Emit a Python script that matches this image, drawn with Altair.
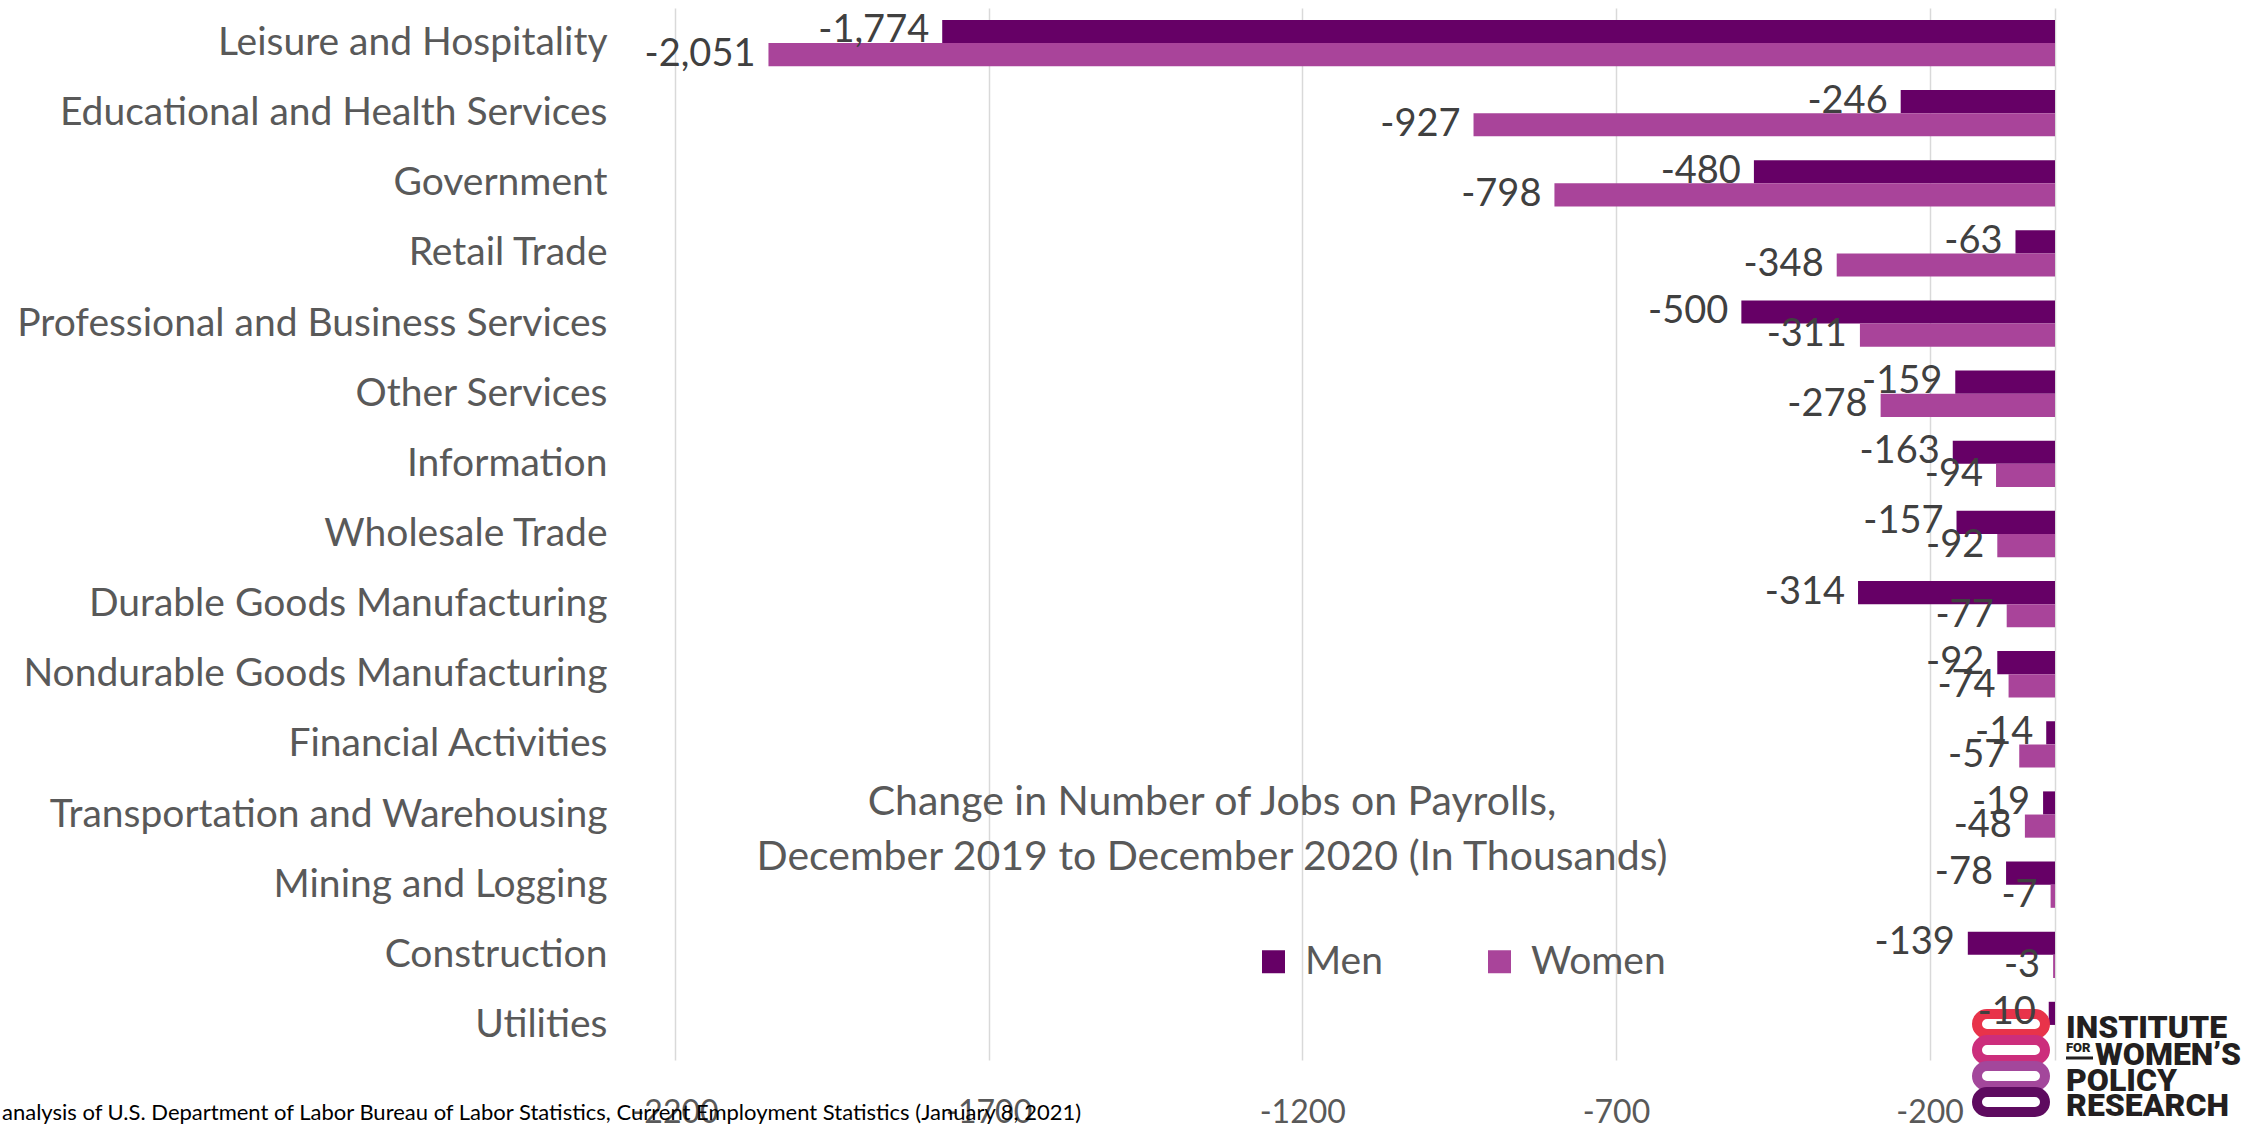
import altair as alt
import pandas as pd

categories = [
    "Leisure and Hospitality",
    "Educational and Health Services",
    "Government",
    "Retail Trade",
    "Professional and Business Services",
    "Other Services",
    "Information",
    "Wholesale Trade",
    "Durable Goods Manufacturing",
    "Nondurable Goods Manufacturing",
    "Financial Activities",
    "Transportation and Warehousing",
    "Mining and Logging",
    "Construction",
    "Utilities",
]
men = [-1774, -246, -480, -63, -500, -159, -163, -157, -314, -92, -14, -19, -78, -139, -10]
women = [-2051, -927, -798, -348, -311, -278, -94, -92, -77, -74, -57, -48, -7, -3, None]
series = ["Men", "Women"]
colors = ["#660066", "#A9449A"]
x_ticks = [-2200, -1700, -1200, -700, -200, 0]

title_lines = [
    "Change in Number of Jobs on Payrolls,",
    "December 2019 to December 2020 (In Thousands)",
]
footer = ("analysis of U.S. Department of Labor Bureau of Labor Statistics, "
          "Current Employment Statistics (January 8, 2021)")
logo_lines = ["INSTITUTE", "WOMEN\u2019S", "POLICY", "RESEARCH"]
ring_colors = ["#E8334A", "#CC2E7C", "#A3479B", "#5E0B5F"]

rows = []
for c, m, w in zip(categories, men, women):
    rows.append({"category": c, "sex": "Men", "value": m})
    if w is not None:
        rows.append({"category": c, "sex": "Women", "value": w})
df = pd.DataFrame(rows)
df["label"] = df["value"].map(lambda v: f"{v:,}")

FONT = "Lato"
W, H = 1380, 1052

base = alt.Chart(df).encode(
    y=alt.Y(
        "category:N",
        sort=categories,
        scale=alt.Scale(paddingInner=0.34, paddingOuter=0.17),
        axis=alt.Axis(
            title=None, domain=False, ticks=False, tickSize=0, grid=False,
            labelFont=FONT, labelFontSize=39, labelColor="#595959",
            labelPadding=68, labelLimit=1000,
        ),
    ),
    yOffset=alt.YOffset("sex:N", sort=series),
    x=alt.X(
        "value:Q",
        scale=alt.Scale(domain=[-2200, 0], nice=False),
        axis=alt.Axis(
            title=None, values=x_ticks,
            labelExpr="datum.value == 0 ? '' : toString(datum.value)",
            grid=True, gridColor="#d9d9d9", gridWidth=1.5,
            domain=False, ticks=False, tickSize=0,
            labelFont=FONT, labelFontSize=32, labelColor="#595959",
            labelPadding=37, labelFlush=False, labelOverlap=False,
        ),
    ),
)

bars = base.mark_bar().encode(
    color=alt.Color(
        "sex:N",
        scale=alt.Scale(domain=series, range=colors),
        legend=alt.Legend(
            title=None, orient="none", legendX=579, legendY=934,
            direction="horizontal", symbolType="square", symbolSize=529,
            symbolStrokeWidth=0, symbolOpacity=1,
            labelFont=FONT, labelFontSize=39, labelColor="#595959",
            labelOffset=12, columnPadding=97, padding=0,
        ),
    )
)

labels = base.mark_text(
    align="right", baseline="middle", dx=-13,
    font=FONT, fontSize=38, color="#404040",
).encode(text="label:N")

one = pd.DataFrame({"a": [0]})

layers = [bars]

# logo rings
ring_centers = [1016, 1042, 1068, 1094]
for col, cy in zip(ring_colors, ring_centers):
    layers.append(
        alt.Chart(one).mark_rect(
            cornerRadius=10, fillOpacity=0, stroke=col, strokeWidth=10
        ).encode(
            x=alt.value(1302), x2=alt.value(1370),
            y=alt.value(cy - 10), y2=alt.value(cy + 10),
        )
    )

layers.append(labels)

# title
for txt, ty in zip(title_lines, [795, 850]):
    layers.append(
        alt.Chart(one).mark_text(
            text=txt, font=FONT, fontSize=41, color="#595959",
            align="center", baseline="middle",
        ).encode(x=alt.value(537), y=alt.value(ty))
    )

# footer
layers.append(
    alt.Chart(one).mark_text(
        text=footer, font=FONT, fontSize=22, color="#000000",
        align="left", baseline="middle",
    ).encode(x=alt.value(-673), y=alt.value(1105))
)

# logo text
logo_x = [1391, 1420, 1391, 1391]
logo_y = [1020, 1047, 1073, 1098]
for txt, lx, ly in zip(logo_lines, logo_x, logo_y):
    layers.append(
        alt.Chart(one).mark_text(
            text=txt, font="Roboto", fontWeight=900, fontSize=32,
            color="#231F20", align="left", baseline="middle",
        ).encode(x=alt.value(lx), y=alt.value(ly))
    )
layers.append(
    alt.Chart(one).mark_text(
        text="FOR", font="Roboto", fontWeight=900, fontSize=13,
        color="#231F20", align="left", baseline="middle",
    ).encode(x=alt.value(1391), y=alt.value(1040))
)
layers.append(
    alt.Chart(one).mark_rule(color="#231F20", strokeWidth=3).encode(
        x=alt.value(1391), x2=alt.value(1418), y=alt.value(1050)
    )
)

chart = alt.layer(*layers).properties(
    width=W, height=H,
    padding={"left": 675, "top": 8, "right": 211, "bottom": 64},
    autosize=alt.AutoSizeParams(type="none"),
    background="white",
).configure_view(strokeWidth=0)

chart.save("out.html", embed_options={"renderer": "svg", "actions": False})
